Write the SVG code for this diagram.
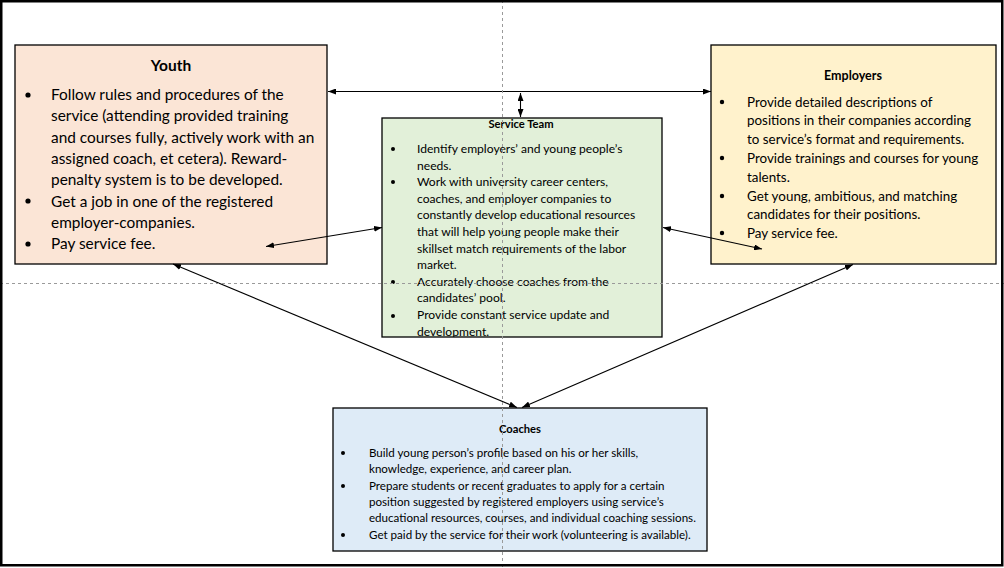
<svg xmlns="http://www.w3.org/2000/svg" width="1004" height="568" viewBox="0 0 1004 568">
<defs>
<marker id="ah" viewBox="0 0 8 6" refX="8" refY="3" markerWidth="8" markerHeight="6" markerUnits="userSpaceOnUse" orient="auto-start-reverse">
<path d="M0,0 L8,3 L0,6 Z" fill="#000"/>
</marker>
<clipPath id="stclip"><rect x="382" y="118" width="280" height="219"/></clipPath>
</defs>
<style>
.box{stroke:#000;stroke-width:1.3}
.t{font-family:Lato,"Liberation Sans",sans-serif;fill:#000}
.b{font-weight:bold}
.con{stroke:#000;stroke-width:1.1;fill:none;marker-start:url(#ah);marker-end:url(#ah)}
.guide{stroke:#9a9a9a;stroke-width:1;stroke-dasharray:3 3;fill:none}
</style>
<rect x="0" y="0" width="1004" height="568" fill="#fff"/>

<g id="youth">
<rect class="box" x="15" y="45" width="312" height="219" fill="#FBE5D6"/>
<text class="t b" x="171" y="71" font-size="15.5" text-anchor="middle">Youth</text>
<g class="t" font-size="15.4">
<circle cx="28" cy="95" r="2.6"/>
<circle cx="28" cy="201" r="2.6"/>
<circle cx="28" cy="244" r="2.6"/>
<text x="51" y="100">Follow rules and procedures of the</text>
<text x="51" y="121.3">service (attending provided training</text>
<text x="51" y="142.6">and courses fully, actively work with an</text>
<text x="51" y="163.9">assigned coach, et cetera). Reward-</text>
<text x="51" y="185.2">penalty system is to be developed.</text>
<text x="51" y="206.5">Get a job in one of the registered</text>
<text x="51" y="227.8">employer-companies.</text>
<text x="51" y="249.1">Pay service fee.</text>
</g>
</g>

<g id="employers">
<rect class="box" x="711" y="45" width="285" height="219" fill="#FFF2CC"/>
<text class="t b" x="853" y="80" font-size="12.5" text-anchor="middle">Employers</text>
<g class="t" font-size="13.4">
<circle cx="722" cy="102" r="2.2"/>
<circle cx="722" cy="158" r="2.2"/>
<circle cx="722" cy="196" r="2.2"/>
<circle cx="722" cy="233" r="2.2"/>
<text x="747" y="106.5">Provide detailed descriptions of</text>
<text x="747" y="125.3">positions in their companies according</text>
<text x="747" y="144.1">to service’s format and requirements.</text>
<text x="747" y="162.9">Provide trainings and courses for young</text>
<text x="747" y="181.7">talents.</text>
<text x="747" y="200.5">Get young, ambitious, and matching</text>
<text x="747" y="219.3">candidates for their positions.</text>
<text x="747" y="238.1">Pay service fee.</text>
</g>
</g>

<g id="service-team">
<rect x="382" y="118" width="280" height="219" fill="#E2F0D9"/>
<text class="t b" x="521" y="128" font-size="11.2" text-anchor="middle">Service Team</text>
<g class="t" font-size="12.1" clip-path="url(#stclip)">
<circle cx="393" cy="149" r="2"/>
<circle cx="393" cy="182" r="2"/>
<circle cx="393" cy="282" r="2"/>
<circle cx="393" cy="316" r="2"/>
<text x="417" y="153">Identify employers’ and young people’s</text>
<text x="417" y="169.6">needs.</text>
<text x="417" y="186.2">Work with university career centers,</text>
<text x="417" y="202.8">coaches, and employer companies to</text>
<text x="417" y="219.4">constantly develop educational resources</text>
<text x="417" y="236">that will help young people make their</text>
<text x="417" y="252.6">skillset match requirements of the labor</text>
<text x="417" y="269.2">market.</text>
<text x="417" y="285.8">Accurately choose coaches from the</text>
<text x="417" y="302.4">candidates’ pool.</text>
<text x="417" y="319">Provide constant service update and</text>
<text x="417" y="335.6">development.</text>
</g>
<rect class="box" x="382" y="118" width="280" height="219" fill="none"/>
</g>

<g id="coaches">
<rect class="box" x="333" y="408" width="374" height="143" fill="#DEEBF7"/>
<text class="t b" x="520" y="433" font-size="11.2" text-anchor="middle">Coaches</text>
<g class="t" font-size="11.6">
<circle cx="343" cy="453" r="2"/>
<circle cx="343" cy="486" r="2"/>
<circle cx="343" cy="535" r="2"/>
<text x="369" y="457">Build young person’s profile based on his or her skills,</text>
<text x="369" y="473.3">knowledge, experience, and career plan.</text>
<text x="369" y="489.6">Prepare students or recent graduates to apply for a certain</text>
<text x="369" y="505.9">position suggested by registered employers using service’s</text>
<text x="369" y="522.2">educational resources, courses, and individual coaching sessions.</text>
<text x="369" y="538.5">Get paid by the service for their work (volunteering is available).</text>
</g>
</g>

<g id="connectors">
<line class="con" x1="328" y1="91.5" x2="711" y2="91.5"/>
<line class="con" x1="520.5" y1="93" x2="520.5" y2="117"/>
<line class="con" x1="266" y1="246.5" x2="382" y2="227.5"/>
<line class="con" x1="663" y1="227.5" x2="762" y2="249"/>
<line class="con" x1="173" y1="264" x2="517" y2="407.5"/>
<line class="con" x1="853" y1="264.5" x2="522" y2="407.5"/>
</g>

<g id="guides">
<line class="guide" x1="502.5" y1="0" x2="502.5" y2="568"/>
<line class="guide" x1="0" y1="283.5" x2="1004" y2="283.5"/>
</g>

<rect x="1.25" y="1.25" width="1001" height="564" fill="none" stroke="#000" stroke-width="2.5"/>
</svg>
